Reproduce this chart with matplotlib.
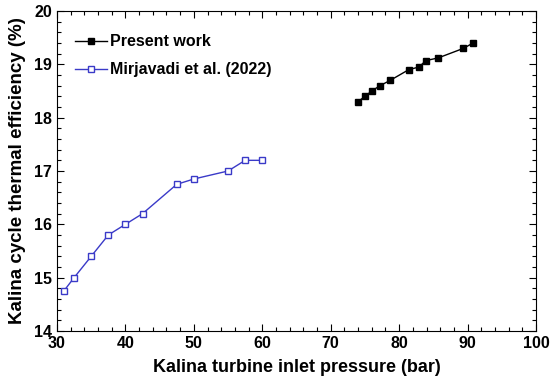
import matplotlib
matplotlib.use("Agg")
import matplotlib.pyplot as plt
from matplotlib.ticker import MultipleLocator

plt.rcParams["font.family"] = ["Liberation Sans", "DejaVu Sans"]
plt.rcParams["font.weight"] = "bold"

# Present work
present_p = [74, 75, 76, 77.2, 78.7, 81.4, 82.9, 83.9, 85.7, 89.4, 90.8]
present_eff = [18.30, 18.40, 18.50, 18.60, 18.70, 18.90, 18.95, 19.07, 19.12, 19.30, 19.40]

# Mirjavadi et al. (2022)
mirj_p = [31, 32.5, 35, 37.5, 40, 42.5, 47.5, 50, 55, 57.5, 60]
mirj_eff = [14.75, 15.0, 15.4, 15.8, 16.0, 16.2, 16.75, 16.85, 17.0, 17.2, 17.2]

fig = plt.figure(figsize=(5.5, 3.86), dpi=100)
ax = fig.add_axes([0.1036, 0.1425, 0.871, 0.829])

ax.plot(present_p, present_eff, color="black", lw=1, marker="s", ms=5,
        mfc="black", mec="black", label="Present work")
ax.plot(mirj_p, mirj_eff, color="#3a3ac8", lw=1, marker="s", ms=5,
        mfc="white", mec="#3a3ac8", mew=1, label="Mirjavadi et al. (2022)")

ax.set_xlim(30, 100)
ax.set_ylim(14, 20)
ax.xaxis.set_major_locator(MultipleLocator(10))
ax.xaxis.set_minor_locator(MultipleLocator(2))
ax.yaxis.set_major_locator(MultipleLocator(1))
ax.yaxis.set_minor_locator(MultipleLocator(0.2))
ax.tick_params(which="both", direction="in", top=True, right=True, labelsize=11.5, width=0.8)
ax.tick_params(which="major", length=5)
ax.tick_params(which="minor", length=3)
for lab in ax.get_xticklabels() + ax.get_yticklabels():
    lab.set_fontweight("bold")
for s in ax.spines.values():
    s.set_linewidth(0.8)

ax.set_xlabel("Kalina turbine inlet pressure (bar)", fontsize=13, fontweight="bold", labelpad=6)
ax.set_ylabel("Kalina cycle thermal efficiency (%)", fontsize=13.5, fontweight="bold", labelpad=6)

leg = ax.legend(loc="upper left", frameon=False, prop={"weight": "bold", "size": 11.5},
                handlelength=2.0, handletextpad=0.2, labelspacing=0.8,
                borderpad=0, borderaxespad=0,
                bbox_to_anchor=(18 / 479, 0.927))

fig.savefig("out.png", dpi=100)
